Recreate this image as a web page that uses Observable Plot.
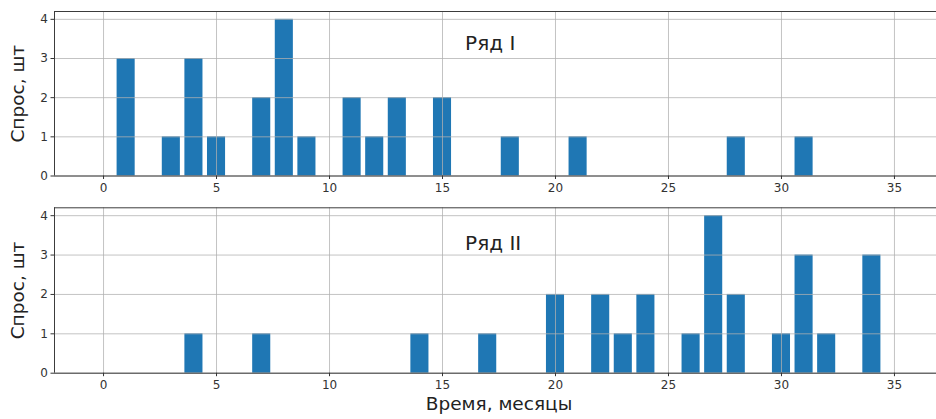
<!DOCTYPE html>
<html><head><meta charset="utf-8">
<script src="https://cdn.jsdelivr.net/npm/d3@7"></script>
<script src="https://cdn.jsdelivr.net/npm/@observablehq/plot@0.6"></script>
<style>
body{margin:0;background:#fff;font-family:"DejaVu Sans",sans-serif}
#chart svg{display:block}
</style>
</head><body><div id="chart"></div>
<script>
const months = [0,1,2,3,4,5,6,7,8,9,10,11,12,13,14,15,16,17,18,19,20,21,22,23,24,25,26,27,28,29,30,31,32,33,34,35];
const seriesI = [0,3,0,1,3,1,0,2,4,1, 0,2,1,2,0,2,0,0,1,0, 0,1,0,0,0,0,0,0,1,0, 0,1,0,0,0,0];
const seriesII = [0,0,0,0,1,0,0,1,0,0, 0,0,0,0,1,0,0,1,0,0, 2,0,2,1,2,0,1,4,2,0, 1,3,1,0,3,0];
const seriesNames = ["Ряд I", "Ряд II"];
const xTicks = [0,5,10,15,20,25,30,35];
const yTicks = [0,1,2,3,4];
const yLabel = "Спрос, шт";
const xLabel = "Время, месяцы";

const XDOM = [-2.17, 36.86];
const YDOM = [0, 4.2];
const BAR = "#1f77b4";
const GRID = "#b0b0b0";
const INK = "#333";

function panel(values, name, o) {
  const data = months.map((m, i) => ({m, v: values[i]})).filter(d => d.v > 0);
  const marks = [
    Plot.rectY(data, {x1: d => d.m - 0.4, x2: d => d.m + 0.4, y1: 0, y2: "v", fill: BAR}),
    Plot.ruleX(xTicks, {stroke: GRID, strokeWidth: 0.9, strokeOpacity: 0.85}),
    Plot.ruleY(yTicks, {stroke: GRID, strokeWidth: 0.9, strokeOpacity: 0.85}),
    Plot.ruleY([YDOM[0], YDOM[1]], {stroke: "#3c3c3c", strokeWidth: 1}),
    Plot.ruleX([XDOM[0]], {stroke: "#3c3c3c", strokeWidth: 1}),
    Plot.axisX({ticks: xTicks, tickSize: 3.5, tickPadding: 4, fontSize: 12, tickFormat: d => String(d)}),
    Plot.axisY({ticks: yTicks, tickSize: 3.5, tickPadding: 3, fontSize: 12, label: null, tickFormat: d => String(d)}),
    Plot.text([name], {x: 16, y: o.ty, text: d => d, textAnchor: "start", fontSize: 20, fill: "#222"}),
    Plot.text([yLabel], {frameAnchor: "left", textAnchor: "middle", dx: -36, rotate: -90, text: d => d, fontSize: 18.5, fill: "#222"})
  ];
  if (o.xlabel) marks.push(Plot.text([xLabel], {x: 17.5, frameAnchor: "bottom", textAnchor: "middle", dy: 36.5, text: d => d, fontSize: 18.5, fill: "#222"}));
  return Plot.plot({
    width: 936, height: o.height,
    marginTop: o.mt, marginBottom: o.mb, marginLeft: 54, marginRight: 0,
    style: {fontFamily: "DejaVu Sans, sans-serif", color: INK, background: "#fff", overflow: "visible"},
    x: {domain: XDOM, axis: null},
    y: {domain: YDOM, axis: null},
    marks
  });
}

const root = document.getElementById("chart");
root.appendChild(panel(seriesI, seriesNames[0], {height: 200, mt: 11, mb: 24.5, ty: 3.38}));
root.appendChild(panel(seriesII, seriesNames[1], {height: 219, mt: 7.3, mb: 46.3, ty: 3.29, xlabel: true}));
</script>
</body></html>
